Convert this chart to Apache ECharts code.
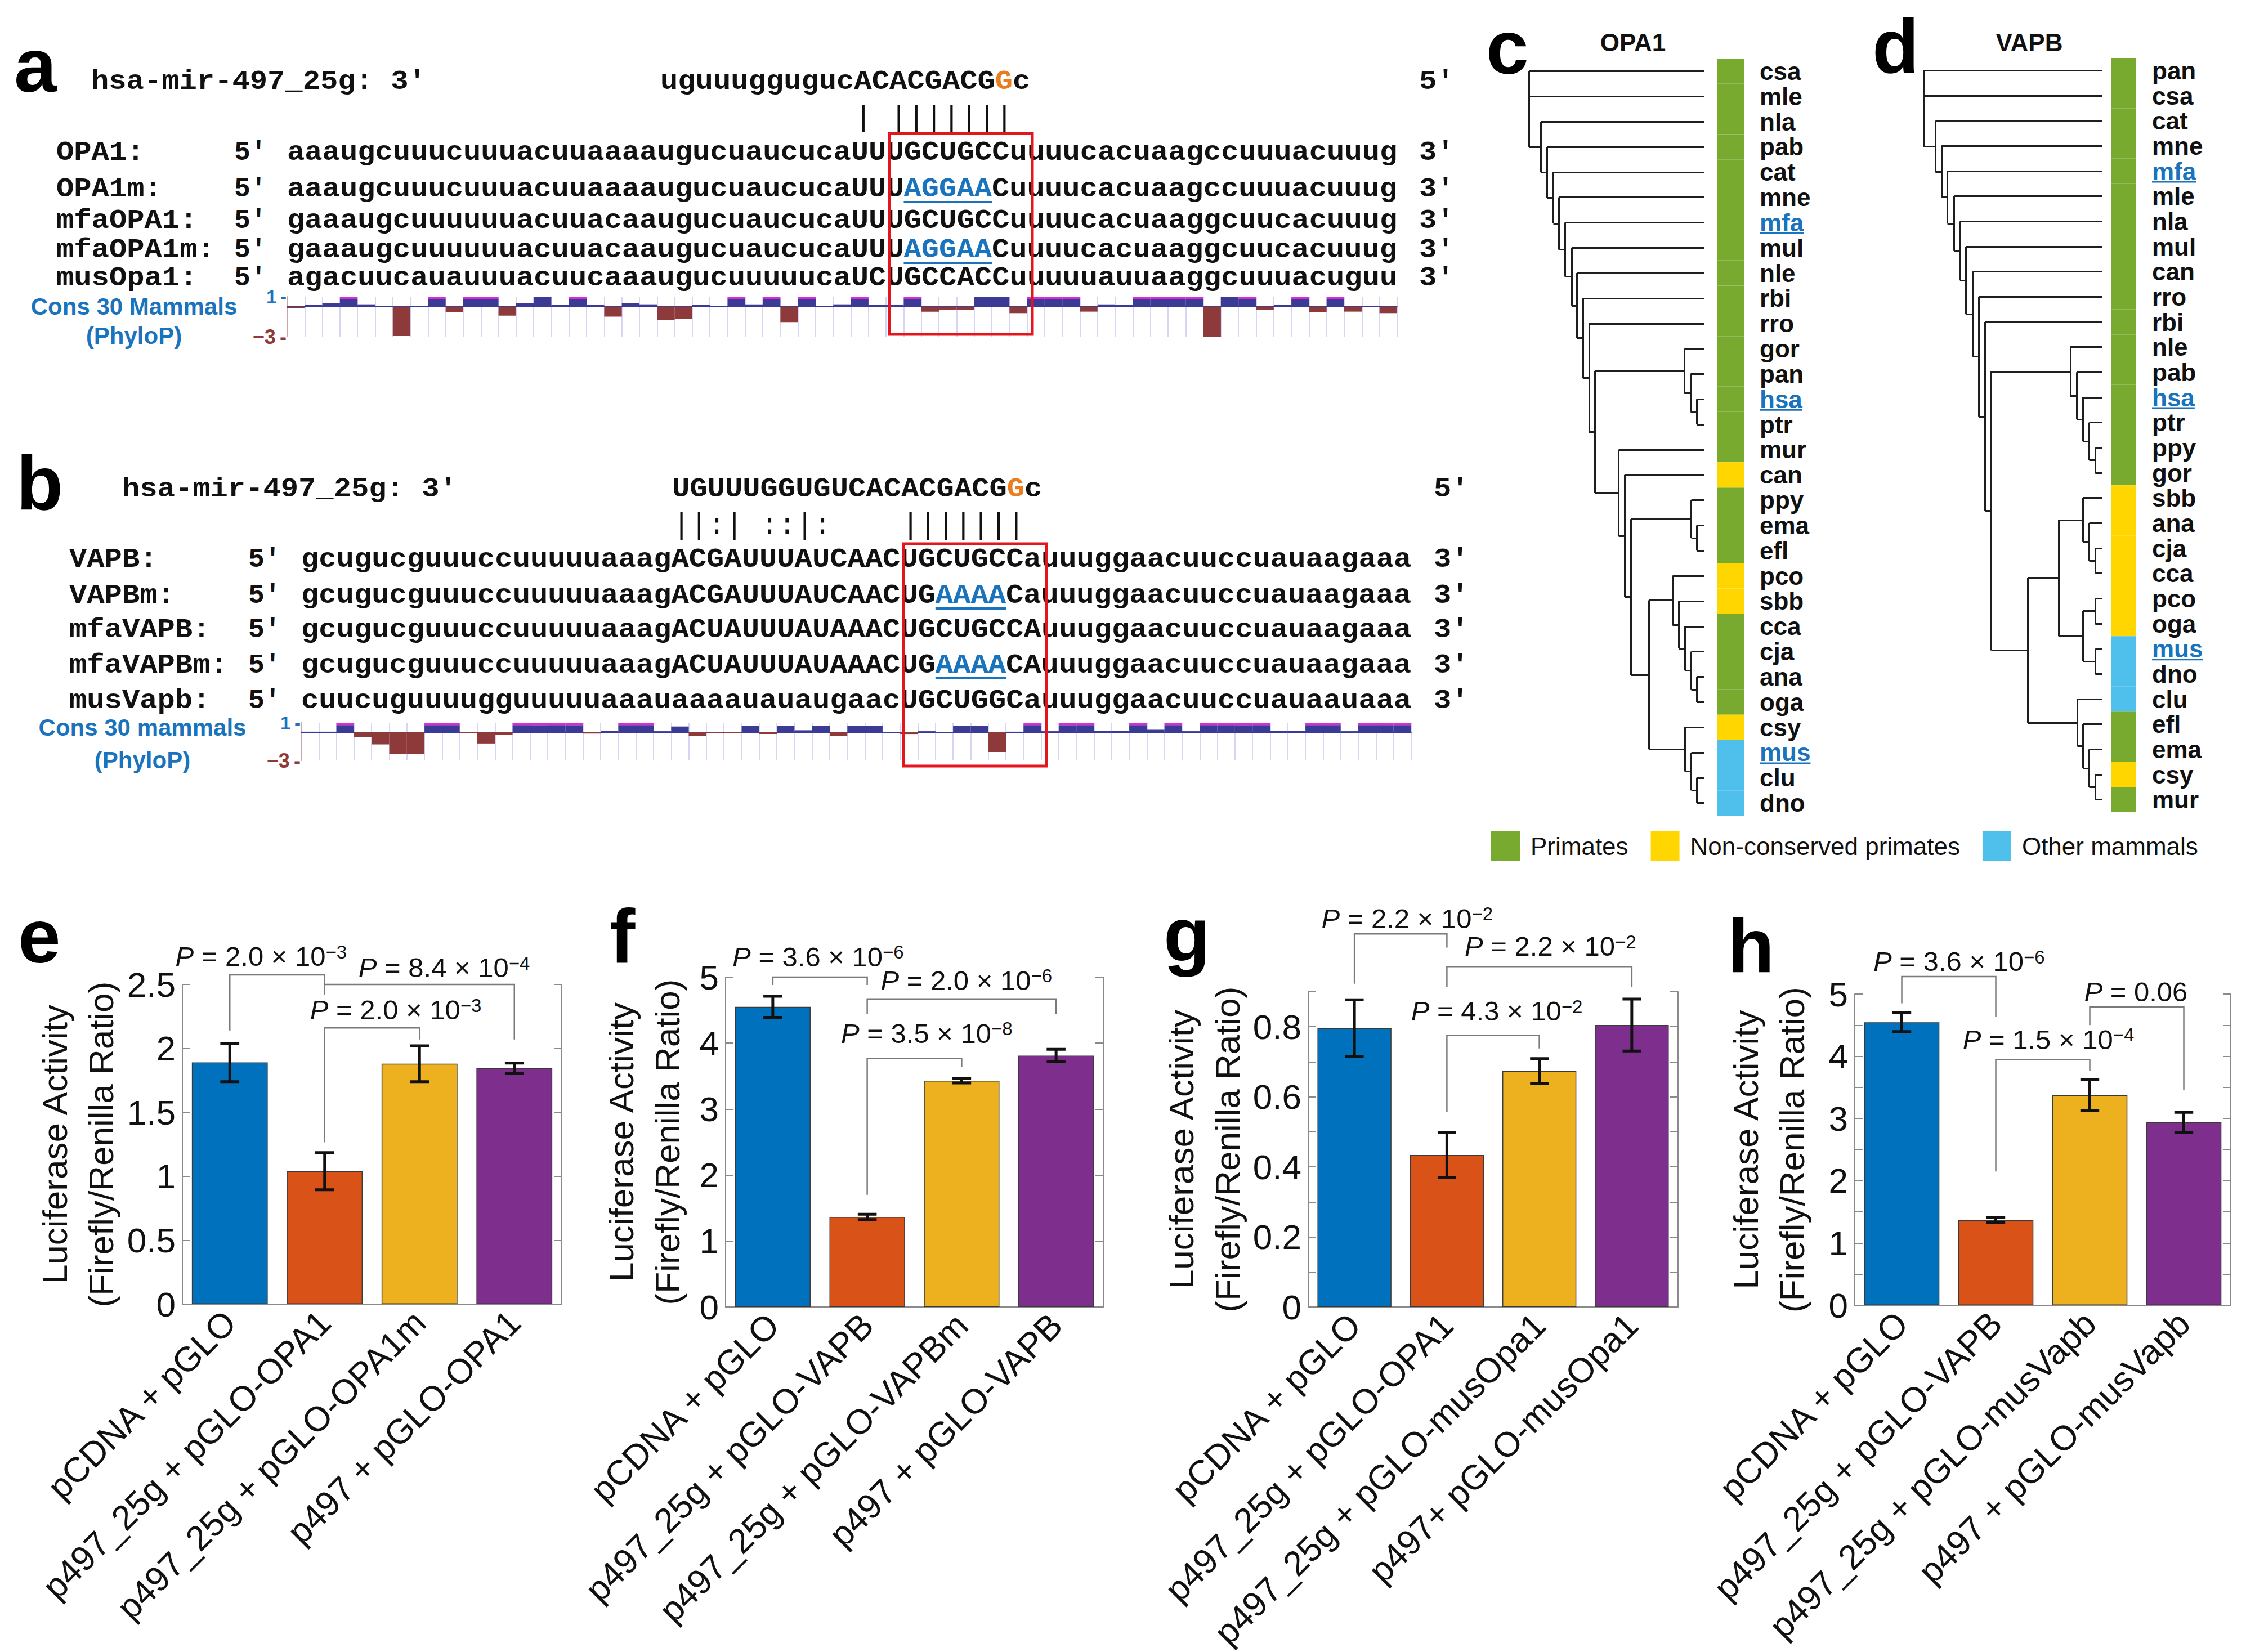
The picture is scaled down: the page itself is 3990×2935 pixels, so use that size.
<!DOCTYPE html>
<html>
<head>
<meta charset="utf-8">
<title>hsa-mir-497_25g targets</title>
<script src="https://cdn.jsdelivr.net/npm/echarts@6.0.0/dist/echarts.min.js"></script>
<style>
html,body{margin:0;padding:0;background:#ffffff;}
#chart{width:3990px;height:2935px;}
</style>
</head>
<body>
<div id="chart"></div>
<script>
// ================= DATA =================
// ---- panel a ----
const mirnaLabelA = "hsa-mir-497_25g: 3'";
const mirnaA = 'uguuuggugucACACGACGGc';
const pairingA = '           | |||||||';
const targetLabelsA = ['OPA1:', 'OPA1m:', 'mfaOPA1:', 'mfaOPA1m:', 'musOpa1:'];
const targetSeqsA = [
  'aaaugcuuucuuuacuuaaaaugucuaucucaUUUGCUGCCuuuucacuaagccuuuacuuug',
  'aaaugcuuucuuuacuuaaaaugucuaucucaUUUAGGAACuuuucacuaagccuuuacuuug',
  'gaaaugcuuuuuuacuuacaaugucuaucucaUUUGCUGCCuuuucacuaaggcuucacuuug',
  'gaaaugcuuuuuuacuuacaaugucuaucucaUUUAGGAACuuuucacuaaggcuucacuuug',
  'agacuucauauuuacuucaaaugucuuuuucaUCUGCCACCuuuuuauuaaggcuuuacuguu'];
const mutatedA = [null, [35, 40], null, [35, 40], null];
const siteBoxA = [34.2, 42.3];
const consLabelA = ['Cons 30 Mammals', '(PhyloP)'];
const phyloA = [-0.15, 0.16, 0.33, 1.2, 0.23, 0.08, -2.95, 0.08, 1.2, -0.55,
  1.2, 1.2, -0.9, 0.33, 1.0, 0.16, 1.2, 0.16, -1.0, 0.33,
  0.23, -1.35, -1.25, 0.16, 0.08, 1.2, 0.23, 1.2, -1.55, 1.2,
  0.08, 0.23, 1.2, 0.16, 0.16, 1.2, -0.5, -0.3, -0.3, 1.0,
  1.0, -0.65, 1.2, 1.2, 1.2, -0.5, 0.23, 0.16, 1.2, 1.2,
  1.2, 1.2, -3.0, 1.0, 1.2, -0.3, 0.16, 1.2, -0.55, 1.2,
  -0.5, 0.08, -0.65];

// ---- panel b ----
const mirnaLabelB = "hsa-mir-497_25g: 3'";
const mirnaB = 'UGUUUGGUGUCACACGACGGc';
const pairingB = '||:| ::|:    |||||||';
const targetLabelsB = ['VAPB:', 'VAPBm:', 'mfaVAPB:', 'mfaVAPBm:', 'musVapb:'];
const targetSeqsB = [
  'gcugucguuuccuuuuuaaagACGAUUUAUCAACUGCUGCCauuuggaacuuccuauaagaaa',
  'gcugucguuuccuuuuuaaagACGAUUUAUCAACUGAAAACauuuggaacuuccuauaagaaa',
  'gcugucguuuccuuuuuaaagACUAUUUAUAAACUGCUGCCAuuuggaacuuccuauaagaaa',
  'gcugucguuuccuuuuuaaagACUAUUUAUAAACUGAAAACAuuuggaacuuccuauaagaaa',
  'cuucuguuuugguuuuuaaauaaaauauaugaacUGCUGGCauuuggaacuuccuauaauaaa'];
const mutatedB = [null, [36, 40], null, [36, 40], null];
const siteBoxB = [34.2, 42.3];
const consLabelB = ['Cons 30 mammals', '(PhyloP)'];
const phyloB = [0.05, 0.05, 1.2, -0.5, -1.3, -2.3, -2.3, 1.2, 1.2, -0.1,
  -1.2, -0.3, 1.2, 1.2, 1.2, 1.2, -0.15, 0.15, 1.2, 1.2,
  0.1, 0.6, -0.4, -0.1, -0.1, 0.7, -0.2, 0.7, 0.2, 0.7,
  -0.4, 0.7, 0.7, 0.05, -0.2, 0.1, 0.02, 0.7, 0.7, -2.1,
  0.05, 1.2, 0.1, 1.2, 1.2, 0.15, 0.15, 1.2, 0.25, 1.2,
  0.1, 1.2, 1.2, 1.2, 1.2, 0.15, 0.15, 1.2, 1.2, 0.1,
  1.2, 1.2, 1.2];

// ---- panels c, d: trees as [node, height, children...] ----
const treeTitleC = 'OPA1';
const treeNodesC = [
  ['root', 1.000, 'csa', 'mle', 'n1'],
  ['n1', 0.931, 'nla', 'n2'],
  ['n2', 0.895, 'pab', 'n3'],
  ['n3', 0.860, 'cat', 'n4'],
  ['n4', 0.828, 'mne', 'n5'],
  ['n5', 0.792, 'mfa', 'n6'],
  ['n6', 0.756, 'mul', 'n7'],
  ['n7', 0.725, 'nle', 'n8'],
  ['n8', 0.692, 'rbi', 'n9'],
  ['n9', 0.656, 'rro', 'n10'],
  ['n10', 0.623, 'n11', 'n12'],
  ['n11', 0.112, 'gor', 'n13'],
  ['n13', 0.076, 'pan', 'n14'],
  ['n14', 0.040, 'hsa', 'ptr'],
  ['n12', 0.487, 'mur', 'n15'],
  ['n15', 0.451, 'can', 'n16'],
  ['n16', 0.417, 'n17', 'n18'],
  ['n17', 0.072, 'ppy', 'n19'],
  ['n19', 0.040, 'ema', 'efl'],
  ['n18', 0.315, 'n20', 'n21'],
  ['n20', 0.179, 'pco', 'n22'],
  ['n22', 0.143, 'sbb', 'n23'],
  ['n23', 0.109, 'cca', 'n24'],
  ['n24', 0.072, 'cja', 'n25'],
  ['n25', 0.040, 'ana', 'oga'],
  ['n21', 0.109, 'csy', 'n26'],
  ['n26', 0.072, 'mus', 'n27'],
  ['n27', 0.040, 'clu', 'dno']];
const groupsC = [0,0,0,0,0,0,0,0,0,0,0,0,0,0,0,0, 1, 0,0,0, 1,1, 0,0,0,0, 1, 2,2,2];

const treeTitleD = 'VAPB';
const treeNodesD = [
  ['root', 1.000, 'pan', 'csa', 'm1'],
  ['m1', 0.933, 'cat', 'm2'],
  ['m2', 0.899, 'mne', 'm3'],
  ['m3', 0.866, 'mfa', 'm4'],
  ['m4', 0.829, 'mle', 'm5'],
  ['m5', 0.796, 'nla', 'm6'],
  ['m6', 0.762, 'mul', 'm7'],
  ['m7', 0.726, 'can', 'm8'],
  ['m8', 0.692, 'rro', 'm9'],
  ['m9', 0.657, 'rbi', 'm10'],
  ['m10', 0.621, 'm11', 'm12'],
  ['m11', 0.180, 'nle', 'm13'],
  ['m13', 0.144, 'pab', 'm14'],
  ['m14', 0.110, 'hsa', 'm15'],
  ['m15', 0.074, 'ptr', 'm16'],
  ['m16', 0.040, 'ppy', 'gor'],
  ['m12', 0.417, 'm17', 'm18'],
  ['m17', 0.245, 'm19', 'm20'],
  ['m19', 0.108, 'sbb', 'm21'],
  ['m21', 0.074, 'ana', 'm22'],
  ['m22', 0.040, 'cja', 'cca'],
  ['m20', 0.108, 'm23', 'm24'],
  ['m23', 0.040, 'pco', 'oga'],
  ['m24', 0.040, 'mus', 'dno'],
  ['m18', 0.140, 'clu', 'm25'],
  ['m25', 0.108, 'efl', 'm26'],
  ['m26', 0.074, 'ema', 'm27'],
  ['m27', 0.040, 'csy', 'mur']];
const groupsD = [0,0,0,0,0,0,0,0,0,0,0,0,0,0,0,0,0, 1,1,1,1,1,1, 2,2,2, 0,0, 1, 0];
const groupNames = ['Primates', 'Non-conserved primates', 'Other mammals'];
const highlightedSpecies = ['mfa', 'hsa', 'mus'];

// ---- panels e-h (luciferase assays) ----
const yTitle = 'Luciferase Activity\n(Firefly/Renilla Ratio)';
const catsE = ['pCDNA + pGLO', 'p497_25g + pGLO-OPA1', 'p497_25g + pGLO-OPA1m', 'p497 + pGLO-OPA1'];
const valsE = [1.89, 1.04, 1.88, 1.845];
const errsE = [0.15, 0.145, 0.14, 0.04];
const bracketsE = [[0, 1, 2.575, 2.14, 2.42], [1, 3, 2.5, 2.42, 2.07], [1, 2, 2.16, 1.265, 2.07]];
const pLabelsE = [[0.33, 2.72, '2.0 × 10', '−3'], [2.26, 2.63, '8.4 × 10', '−4'], [1.75, 2.30, '2.0 × 10', '−3']];

const catsF = ['pCDNA + pGLO', 'p497_25g + pGLO-VAPB', 'p497_25g + pGLO-VAPBm', 'p497 + pGLO-VAPB'];
const valsF = [4.55, 1.365, 3.43, 3.81];
const errsF = [0.16, 0.04, 0.035, 0.095];
const bracketsF = [[0, 1, 5.0, 4.88, 4.88], [1, 3, 4.67, 4.44, 4.44], [1, 2, 3.77, 1.70, 3.64]];
const pLabelsF = [[0.48, 5.31, '3.6 × 10', '−6'], [2.05, 4.95, '2.0 × 10', '−6'], [1.63, 4.15, '3.5 × 10', '−8']];

const catsG = ['pCDNA + pGLO', 'p497_25g + pGLO-OPA1', 'p497_25g + pGLO-musOpa1', 'p497+ pGLO-musOpa1'];
const valsG = [0.796, 0.434, 0.674, 0.805];
const errsG = [0.081, 0.064, 0.035, 0.074];
const bracketsG = [[0, 1, 1.065, 0.923, 1.026], [1, 3, 0.972, 0.914, 0.914], [1, 2, 0.775, 0.556, 0.738]];
const pLabelsG = [[0.57, 1.109, '2.2 × 10', '−2'], [2.12, 1.03, '2.2 × 10', '−2'], [1.54, 0.845, '4.3 × 10', '−2']];

const catsH = ['pCDNA + pGLO', 'p497_25g + pGLO-VAPB', 'p497_25g + pGLO-musVapb', 'p497 + pGLO-musVapb'];
const valsH = [4.546, 1.37, 3.377, 2.94];
const errsH = [0.15, 0.04, 0.25, 0.16];
const bracketsH = [[0, 1, 5.28, 4.85, 4.63], [1, 2, 3.95, 2.15, 3.77], [2, 3, 4.79, 4.5, 3.46]];
const pLabelsH = [[0.61, 5.52, '3.6 × 10', '−6'], [1.56, 4.27, '1.5 × 10', '−4'], [2.49, 5.04, '0.06', '']];

const yMaxes = [2.5, 5, 0.9, 5];
const yIntervals = [0.5, 1, 0.2, 1];
const yMinorTicks = [false, false, true, true];

// ================= STYLE / LAYOUT =================
const SANS = '"Liberation Sans", Arial, Helvetica, sans-serif';
const MONO = '"Liberation Mono", "Courier New", monospace';
const CW = 31.3;
const MONO_SIZE = 48;
const MONO_SX = CW / (0.6 * MONO_SIZE);
const SEQ_FONT = 'bold ' + MONO_SIZE + 'px ' + MONO;
const BLUE_TXT = '#1a73bd';
const ORANGE = '#ea7d1f';
const NAVY = '#3b3b96';
const BROWN = '#8e3a3a';
const MAGENTA = '#de28de';
const GROUP_COLORS = ['#78aa30', '#ffd600', '#4fc0eb'];
const BAR_COLORS = ['#0072BD', '#D95319', '#EDB120', '#7E2F8E'];
const AXIS_GRAY = '#8a8a8a';
const CAP = 0.25;

const G = [];
function addText(x, y, s, font, fill, align, sx) {
  G.push({type: 'text', x: x, y: y, scaleX: sx || 1, silent: true, z: 10,
    style: {text: s, font: font, fill: fill || '#111111',
      textAlign: align || 'left', textVerticalAlign: 'middle',
      align: align || 'left', verticalAlign: 'middle'}});
}
function addSeq(x, y, s, fill) { addText(x, y, s, SEQ_FONT, fill, 'left', MONO_SX); }
function addLine(x1, y1, x2, y2, color, w) {
  G.push({type: 'line', silent: true, z: 10, shape: {x1: x1, y1: y1, x2: x2, y2: y2},
    style: {stroke: color, lineWidth: w}});
}

// ---- sequence panels ----
function seqPanel(L, mirLabel, mir, pairing, labels, seqs, muts, box, cons) {
  addText(L.letterX, L.letterY, L.letter, 'bold 136px ' + SANS, '#000');
  addSeq(L.mirLabelX, L.mirY, mirLabel);
  addSeq(L.mirX, L.mirY, mir.slice(0, 19));
  addSeq(L.mirX + 19 * CW, L.mirY, mir.slice(19, 20), ORANGE);
  addSeq(L.mirX + 20 * CW, L.mirY, mir.slice(20));
  addSeq(L.primeX, L.mirY, "5'");
  for (let i = 0; i < pairing.length; i++) {
    if (pairing[i] !== ' ') addText(L.mirX + i * CW + 1, L.pairY, pairing[i], '52px ' + MONO);
  }
  labels.forEach(function (lab, r) {
    const y = L.rowY[r];
    addSeq(L.labelX, y, lab);
    addText(L.seqX - 3 * CW, y, "5'", SEQ_FONT);
    const s = seqs[r], m = muts[r];
    if (!m) {
      addSeq(L.seqX, y, s);
    } else {
      addSeq(L.seqX, y, s.slice(0, m[0]));
      addSeq(L.seqX + m[0] * CW, y, s.slice(m[0], m[1]), BLUE_TXT);
      addSeq(L.seqX + m[1] * CW, y, s.slice(m[1]));
      addLine(L.seqX + m[0] * CW, y + 23, L.seqX + m[1] * CW, y + 23, BLUE_TXT, 4);
    }
    addSeq(L.primeX, y, "3'");
  });
  G.push({type: 'rect', silent: true, z: 11,
    shape: {x: L.seqX + box[0] * CW, y: L.boxTop, width: (box[1] - box[0]) * CW, height: L.boxBottom - L.boxTop},
    style: {fill: 'none', stroke: '#e3161d', lineWidth: 5}});
  addText(L.consX, L.consY[0], cons[0], 'bold 42px ' + SANS, BLUE_TXT, 'center');
  addText(L.consX, L.consY[1], cons[1], 'bold 42px ' + SANS, BLUE_TXT, 'center');
}
const layoutA = {letter: 'a', letterX: 25, letterY: 116, mirLabelX: 162, mirX: 1173, mirY: 145, pairY: 210,
  primeX: 2521, labelX: 100, seqX: 510, rowY: [271, 336, 392, 444, 494], boxTop: 237, boxBottom: 594,
  consX: 238, consY: [544, 596]};
const layoutB = {letter: 'b', letterX: 29, letterY: 858, mirLabelX: 217, mirX: 1194, mirY: 869, pairY: 934,
  primeX: 2547, labelX: 123, seqX: 535, rowY: [994, 1058, 1119, 1182, 1245], boxTop: 966, boxBottom: 1361,
  consX: 253, consY: [1292, 1350]};
seqPanel(layoutA, mirnaLabelA, mirnaA, pairingA, targetLabelsA, targetSeqsA, mutatedA, siteBoxA, consLabelA);
seqPanel(layoutB, mirnaLabelB, mirnaB, pairingB, targetLabelsB, targetSeqsB, mutatedB, siteBoxB, consLabelB);

addText(2640, 84, 'c', 'bold 136px ' + SANS, '#000');
addText(3326, 82, 'd', 'bold 136px ' + SANS, '#000');
addText(2901, 75, treeTitleC, 'bold 44px ' + SANS, '#111', 'center');
addText(3605, 75, treeTitleD, 'bold 44px ' + SANS, '#111', 'center');
addText(32, 1663, 'e', 'bold 136px ' + SANS, '#000');
addText(1083, 1663, 'f', 'bold 136px ' + SANS, '#000');
addText(2067, 1660, 'g', 'bold 136px ' + SANS, '#000');
addText(3069, 1680, 'h', 'bold 136px ' + SANS, '#000');

// ---- tree layout from the node table ----
function layoutTree(nodes) {
  const byId = {};
  nodes.forEach(function (n) { byId[n[0]] = n; });
  const leaves = [], segs = [];
  function walk(id) {
    const n = byId[id];
    if (!n) { const y = leaves.length; leaves.push(id); return {h: 0, y: y}; }
    const h = n[1];
    const kids = n.slice(2).map(walk);
    const y1 = kids[0].y, y2 = kids[kids.length - 1].y;
    segs.push([[h, y1], [h, y2]]);
    kids.forEach(function (k) { segs.push([[h, k.y], [k.h, k.y]]); });
    return {h: h, y: (y1 + y2) / 2};
  }
  walk('root');
  return {leaves: leaves, segs: segs};
}
const TC = layoutTree(treeNodesC);
const TD = layoutTree(treeNodesD);

// ================= OPTION =================
const grids = [], xAxes = [], yAxes = [], series = [];
function addGrid(left, top, width, height) {
  grids.push({left: left, top: top, width: width, height: height, containLabel: false, outerBoundsMode: 'none'});
  return grids.length - 1;
}

function phyloTrack(values, seq, left, top, height) {
  const gi = addGrid(left, top, seq.length * CW, height);
  xAxes.push({gridIndex: gi, type: 'category', data: seq.split('').map(function (c, i) { return c + i; }),
    axisLine: {show: true, onZero: true, lineStyle: {color: NAVY, width: 2}},
    axisTick: {show: false}, axisLabel: {show: false},
    splitLine: {show: true, interval: 0, lineStyle: {color: '#d6d6f4', width: 2}}});
  yAxes.push({gridIndex: gi, type: 'value', min: -3, max: 1, interval: 4,
    axisLine: {show: true, lineStyle: {color: '#c9a5a5', width: 2}},
    axisTick: {show: false}, splitLine: {show: false},
    axisLabel: {show: true, margin: 1, showMinLabel: true, showMaxLabel: true,
      formatter: function (v) { return v === 1 ? '{p|1\u2009-}' : (v === -3 ? '{n|−3\u2009-}' : ''); },
      rich: {p: {color: BLUE_TXT, fontWeight: 'bold', fontSize: 33, fontFamily: SANS},
             n: {color: BROWN, fontWeight: 'bold', fontSize: 36, fontFamily: SANS}}}});
  const ax = xAxes.length - 1;
  series.push({type: 'bar', xAxisIndex: ax, yAxisIndex: ax, stack: 'phylo' + gi, barCategoryGap: '0%',
    silent: true, animation: false,
    data: values.map(function (v) {
      return {value: v > 1 ? 1 - CAP : Math.max(v, -3), itemStyle: {color: v >= 0 ? NAVY : BROWN}};
    })});
  series.push({type: 'bar', xAxisIndex: ax, yAxisIndex: ax, stack: 'phylo' + gi, barCategoryGap: '0%',
    silent: true, animation: false, itemStyle: {color: MAGENTA},
    data: values.map(function (v) { return v > 1 ? CAP : '-'; })});
}
phyloTrack(phyloA, targetSeqsA[0], layoutA.seqX, 527, 71);
phyloTrack(phyloB, targetSeqsB[0], layoutB.seqX, 1284, 67);

function treePanel(T, groups, treeLeft, treeRight, barLeft, barWidth, top, height) {
  const gt = addGrid(treeLeft, top, treeRight - treeLeft, height);
  xAxes.push({gridIndex: gt, type: 'value', min: 0, max: 1, inverse: true, show: false});
  yAxes.push({gridIndex: gt, type: 'value', min: -0.5, max: T.leaves.length - 0.5, inverse: true, show: false});
  const at = xAxes.length - 1;
  series.push({type: 'lines', coordinateSystem: 'cartesian2d', xAxisIndex: at, yAxisIndex: at,
    silent: true, animation: false,
    lineStyle: {color: '#1e1e1e', width: 3, opacity: 1},
    data: T.segs.map(function (s) { return {coords: s}; })});
  const gb = addGrid(barLeft, top, barWidth, height);
  xAxes.push({gridIndex: gb, type: 'value', min: 0, max: 1, show: false});
  yAxes.push({gridIndex: gb, type: 'category', data: T.leaves, inverse: true, position: 'right',
    axisLine: {show: false}, axisTick: {show: false}, splitLine: {show: false},
    axisLabel: {show: true, interval: 0, margin: 28, fontSize: 44, fontWeight: 'bold', fontFamily: SANS, color: '#111',
      formatter: function (n) { return highlightedSpecies.indexOf(n) >= 0 ? '{u|' + n + '}' : n; },
      rich: {u: {color: BLUE_TXT, fontSize: 44, fontWeight: 'bold', fontFamily: SANS}}}});
  const ab = xAxes.length - 1;
  groupNames.forEach(function (name, g) {
    series.push({type: 'bar', name: name, xAxisIndex: ab, yAxisIndex: ab, barWidth: '100%', barGap: '-100%',
      silent: true, animation: false, itemStyle: {color: GROUP_COLORS[g]},
      data: groups.map(function (x) { return x === g ? 1 : '-'; })});
  });
  return ab;
}
const barAxisC = treePanel(TC, groupsC, 2716, 3027, 3050, 48, 104, 1345);
const barAxisD = treePanel(TD, groupsD, 3417, 3735, 3751, 44, 103, 1340);

const barPanels = [
  {cats: catsE, vals: valsE, errs: errsE, br: bracketsE, pl: pLabelsE},
  {cats: catsF, vals: valsF, errs: errsF, br: bracketsF, pl: pLabelsF},
  {cats: catsG, vals: valsG, errs: errsG, br: bracketsG, pl: pLabelsG},
  {cats: catsH, vals: valsH, errs: errsH, br: bracketsH, pl: pLabelsH}];
const barLayouts = [
  {left: 324, top: 1749, width: 674, height: 568, gap: 104},
  {left: 1289, top: 1736, width: 671, height: 586, gap: 63},
  {left: 2324, top: 1762, width: 657, height: 560, gap: 101},
  {left: 3295, top: 1766, width: 668, height: 553, gap: 71}];
const rightAxes = [];
barPanels.forEach(function (P, k) {
  const Lk = barLayouts[k];
  const gi = addGrid(Lk.left, Lk.top, Lk.width, Lk.height);
  const maxIsTick = Math.abs(yMaxes[k] / yIntervals[k] - Math.round(yMaxes[k] / yIntervals[k])) < 1e-9;
  xAxes.push({gridIndex: gi, type: 'category', data: P.cats,
    axisLine: {show: true, onZero: false, lineStyle: {color: AXIS_GRAY, width: 2}},
    axisTick: {show: false}, splitLine: {show: false},
    axisLabel: {interval: 0, rotate: 45, margin: 22, fontSize: 62, fontFamily: SANS, color: '#111'}});
  const yCommon = {gridIndex: gi, type: 'value', min: 0, max: yMaxes[k], interval: yIntervals[k],
    splitLine: {show: false},
    minorTick: {show: yMinorTicks[k], splitNumber: 2, length: 14, lineStyle: {color: AXIS_GRAY, width: 2}},
    minorSplitLine: {show: false},
    axisTick: {show: true, inside: true, length: 14, lineStyle: {color: AXIS_GRAY, width: 2}},
    axisLine: {show: true, onZero: false, lineStyle: {color: AXIS_GRAY, width: 2}}};
  yAxes.push(Object.assign({}, yCommon, {position: 'left',
    name: yTitle, nameLocation: 'middle', nameGap: Lk.gap, nameRotate: 90,
    nameTextStyle: {fontSize: 62, lineHeight: 82, fontFamily: SANS, color: '#111'},
    axisLabel: {show: true, margin: 12, fontSize: 62, fontFamily: SANS, color: '#111',
      showMaxLabel: maxIsTick, showMinLabel: true}}));
  rightAxes.push(Object.assign({}, yCommon, {position: 'right', axisLabel: {show: false}}));
  const ai = xAxes.length - 1;
  series.push({type: 'bar', xAxisIndex: ai, yAxisIndex: ai, barCategoryGap: '20%', silent: true, animation: false,
    data: P.vals.map(function (v, i) {
      return {value: v, itemStyle: {color: BAR_COLORS[i], borderColor: '#3a3a3a', borderWidth: 1.5}};
    })});
  series.push({type: 'custom', xAxisIndex: ai, yAxisIndex: ai, silent: true, animation: false, z: 5, clip: false,
    data: P.vals.map(function (v, i) { return [i, v, P.errs[i]]; }),
    renderItem: function (params, api) {
      const x = api.value(0), v = api.value(1), e = api.value(2);
      const t = api.coord([x, v + e]), b = api.coord([x, v - e]);
      const hw = api.size([1, 0])[0] * 0.1;
      const st = {stroke: '#111111', lineWidth: 5};
      return {type: 'group', children: [
        {type: 'line', shape: {x1: t[0], y1: t[1], x2: b[0], y2: b[1]}, style: st},
        {type: 'line', shape: {x1: t[0] - hw, y1: t[1], x2: t[0] + hw, y2: t[1]}, style: st},
        {type: 'line', shape: {x1: b[0] - hw, y1: b[1], x2: b[0] + hw, y2: b[1]}, style: st}]};
    }});
  series.push({type: 'custom', xAxisIndex: ai, yAxisIndex: ai, silent: true, animation: false, z: 4, clip: false,
    data: P.br.map(function (b) { return [b[0], b[2]]; }),
    renderItem: function (params, api) {
      const b = P.br[params.dataIndex];
      return {type: 'polyline', shape: {points: [api.coord([b[0], b[3]]), api.coord([b[0], b[2]]),
        api.coord([b[1], b[2]]), api.coord([b[1], b[4]])]},
        style: {stroke: '#7a7a7a', lineWidth: 2.5, fill: 'none'}};
    }});
  series.push({type: 'custom', xAxisIndex: ai, yAxisIndex: ai, silent: true, animation: false, z: 6, clip: false,
    data: P.pl.map(function (p) { return [0, p[1]]; }),
    renderItem: function (params, api) {
      const p = P.pl[params.dataIndex];
      const c0 = api.coord([0, p[1]]), c1 = api.coord([1, p[1]]);
      const x = c0[0] + p[0] * (c1[0] - c0[0]);
      return {type: 'text', x: x, y: c0[1],
        style: {text: '{i|P}{t| = ' + p[2] + '}' + (p[3] ? '{s|' + p[3] + '}' : ''),
          align: 'center', verticalAlign: 'middle', textAlign: 'center', textVerticalAlign: 'middle',
          rich: {i: {fontSize: 49, fontStyle: 'italic', fontFamily: SANS, fill: '#111', color: '#111'},
                 t: {fontSize: 49, fontFamily: SANS, fill: '#111', color: '#111'},
                 s: {fontSize: 33, fontFamily: SANS, fill: '#111', color: '#111', verticalAlign: 'top'}}}};
    }});
});
rightAxes.forEach(function (a) { yAxes.push(a); });

const option = {
  backgroundColor: '#ffffff',
  animation: false,
  textStyle: {fontFamily: SANS},
  grid: grids,
  xAxis: xAxes,
  yAxis: yAxes,
  legend: {data: groupNames, left: 2649, top: 1476, padding: 0, itemWidth: 51, itemHeight: 54, itemGap: 40,
    icon: 'rect', selectedMode: false,
    textStyle: {fontSize: 44, fontFamily: SANS, color: '#111', padding: [0, 0, 0, 14]}},
  series: series,
  graphic: {elements: G}
};

const chart = echarts.init(document.getElementById('chart'), null, {renderer: 'svg', width: 3990, height: 2935});
chart.setOption(option);

const mctx = document.createElement('canvas').getContext('2d');
mctx.font = 'bold 44px ' + SANS;
[[barAxisC, 3098 + 28], [barAxisD, 3795 + 28]].forEach(function (pair) {
  highlightedSpecies.forEach(function (n) {
    const y = chart.convertToPixel({yAxisIndex: pair[0]}, n);
    const w = mctx.measureText(n).width;
    addLine(pair[1], y + 19, pair[1] + w, y + 19, BLUE_TXT, 3);
  });
});
chart.setOption({graphic: {elements: G}});
</script>
</body>
</html>
